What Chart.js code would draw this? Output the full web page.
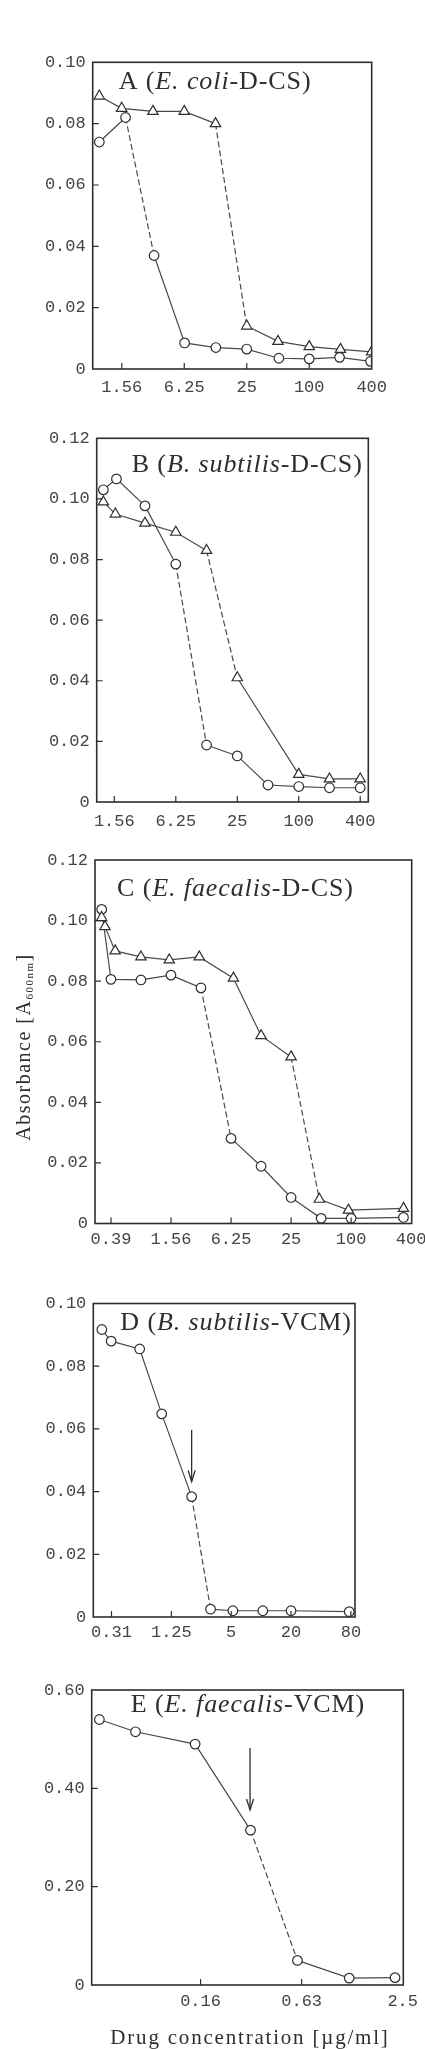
<!DOCTYPE html>
<html lang="en">
<head>
<meta charset="UTF-8">
<title>Absorbance vs drug concentration</title>
<script src="https://cdn.jsdelivr.net/npm/chart.js"></script>
<style>
    body { margin: 0; background: #fff; }
    #page { position: relative; width: 425px; height: 2049px; }
    canvas { position: absolute; left: 0; }
</style>
</head>
<body>
<div id="page">
    <canvas id="chart-a" width="425" height="390" style="top:30px"></canvas>
    <canvas id="chart-b" width="425" height="420" style="top:420px"></canvas>
    <canvas id="chart-c" width="425" height="420" style="top:840px"></canvas>
    <canvas id="chart-d" width="425" height="370" style="top:1280px"></canvas>
    <canvas id="chart-e" width="425" height="389" style="top:1660px"></canvas>
</div>

<script>
    // A - E. coli, D-CS
    const aConcTri = [0.95, 1.56, 3.12, 6.25, 12.5, 25, 50, 100, 200, 400];
    const aAbsTri = [0.089, 0.085, 0.084, 0.084, 0.080, 0.014, 0.009, 0.0073, 0.0064, 0.0056];
    const aConcCirc = [0.95, 1.7, 3.2, 6.3, 12.6, 25, 51, 100, 196, 390];
    const aAbsCirc = [0.074, 0.082, 0.037, 0.0085, 0.007, 0.0065, 0.0035, 0.0033, 0.0038, 0.0025];
    const aXTicks = [1.5625, 6.25, 25, 100, 400];
    const aXLabels = ['1.56', '6.25', '25', '100', '400'];
    const aYTicks = [0, 0.02, 0.04, 0.06, 0.08, 0.10];

    // B - B. subtilis, D-CS
    const bConcTri = [1.22, 1.6, 3.12, 6.25, 12.5, 25, 100, 200, 400];
    const bAbsTri = [0.099, 0.095, 0.092, 0.089, 0.083, 0.041, 0.0091, 0.0076, 0.0076];
    const bConcCirc = [1.22, 1.64, 3.12, 6.25, 12.5, 25, 50, 100, 200, 400];
    const bAbsCirc = [0.103, 0.1066, 0.0977, 0.0785, 0.0188, 0.0152, 0.0056, 0.0051, 0.0047, 0.0047];
    const bXTicks = [1.5625, 6.25, 25, 100, 400];
    const bXLabels = ['1.56', '6.25', '25', '100', '400'];
    const bYTicks = [0, 0.02, 0.04, 0.06, 0.08, 0.10, 0.12];

    // C - E. faecalis, D-CS
    const cConcTri = [0.315, 0.34, 0.43, 0.78, 1.5, 3.0, 6.6, 12.5, 25, 48, 94, 335];
    const cAbsTri = [0.101, 0.098, 0.090, 0.088, 0.087, 0.088, 0.081, 0.062, 0.055, 0.008, 0.0044, 0.005];
    const cConcCirc = [0.315, 0.39, 0.78, 1.56, 3.12, 6.25, 12.5, 25, 50, 100, 335];
    const cAbsCirc = [0.1037, 0.0806, 0.0804, 0.082, 0.0778, 0.0281, 0.0189, 0.0086, 0.0017, 0.0017, 0.002];
    const cXTicks = [0.390625, 1.5625, 6.25, 25, 100, 400];
    const cXLabels = ['0.39', '1.56', '6.25', '25', '100', '400'];
    const cYTicks = [0, 0.02, 0.04, 0.06, 0.08, 0.10, 0.12];

    // D - B. subtilis, VCM
    const dConc = [0.25, 0.31, 0.6, 1.0, 2.0, 3.1, 5.2, 10.4, 20, 77];
    const dAbs = [0.0917, 0.088, 0.0855, 0.0648, 0.0384, 0.0025, 0.002, 0.002, 0.002, 0.0017];
    const dXTicks = [0.3125, 1.25, 5, 20, 80];
    const dXLabels = ['0.31', '1.25', '5', '20', '80'];
    const dYTicks = [0, 0.02, 0.04, 0.06, 0.08, 0.10];
    const dArrowX = 2.0;
    const dArrowY = [0.0597, 0.0432];

    // E - E. faecalis, VCM
    const eConc = [0.039, 0.064, 0.145, 0.31, 0.59, 1.2, 2.25];
    const eAbs = [0.54, 0.515, 0.49, 0.315, 0.05, 0.014, 0.015];
    const eXTicks = [0.15625, 0.625, 2.5];
    const eXLabels = ['0.16', '0.63', '2.5'];
    const eYTicks = [0, 0.20, 0.40, 0.60];
    const eArrowX = 0.308;
    const eArrowY = [0.482, 0.356];

    const yAxisTitle = ['Absorbance [A', '600nm', ']'];
    const xAxisTitle = 'Drug concentration [\u00b5g/ml]';

    const serif = '"Liberation Serif", "DejaVu Serif", serif';
    const tickFont = { family: '"Liberation Mono", "DejaVu Sans Mono", monospace', size: 17 };
    const ink = '#2e2e2e';

    // frame, inward ticks, panel label, arrow, axis titles
    const panelDecor = {
        id: 'panelDecor',
        afterDraw(chart, args, opt) {
            const { ctx, chartArea: a, scales: { x, y } } = chart;
            ctx.save();
            ctx.strokeStyle = ink;
            ctx.lineWidth = 1.6;
            ctx.strokeRect(a.left, a.top, a.right - a.left, a.bottom - a.top);

            ctx.lineWidth = 1.2;
            ctx.beginPath();
            y.ticks.forEach(t => {
                const py = y.getPixelForValue(t.value);
                if (py > a.top + 2 && py < a.bottom - 2) { ctx.moveTo(a.left, py); ctx.lineTo(a.left + 6, py); }
            });
            x.ticks.forEach(t => {
                const px = x.getPixelForValue(t.value);
                if (px > a.left + 2 && px < a.right - 2) { ctx.moveTo(px, a.bottom); ctx.lineTo(px, a.bottom - 6); }
            });
            ctx.stroke();

            ctx.fillStyle = ink;
            ctx.textBaseline = 'alphabetic';
            ctx.letterSpacing = '0.9px';
            let cx = a.left + opt.labelDx;
            opt.label.forEach(([text, style]) => {
                ctx.font = `${style} 26px ${serif}`;
                ctx.fillText(text, cx, a.top + opt.labelDy);
                cx += ctx.measureText(text).width;
            });

            if (opt.arrow) {
                const px = x.getPixelForValue(opt.arrow.x);
                const y1 = y.getPixelForValue(opt.arrow.y[0]);
                const y2 = y.getPixelForValue(opt.arrow.y[1]);
                ctx.lineWidth = 1.3;
                ctx.beginPath();
                ctx.moveTo(px, y1);
                ctx.lineTo(px, y2);
                ctx.stroke();
                ctx.beginPath();
                ctx.moveTo(px - 3.5, y2 - 11);
                ctx.lineTo(px, y2);
                ctx.lineTo(px + 3.5, y2 - 11);
                ctx.stroke();
            }

            if (opt.yTitle) {
                ctx.translate(opt.yTitle.x, opt.yTitle.y);
                ctx.rotate(-Math.PI / 2);
                ctx.letterSpacing = '1.5px';
                ctx.textBaseline = 'middle';
                const parts = [[yAxisTitle[0], 20, 0], [yAxisTitle[1], 11, 5], [yAxisTitle[2], 20, 0]];
                let total = 0;
                parts.forEach(([t, s]) => { ctx.font = `${s}px ${serif}`; total += ctx.measureText(t).width; });
                let tx = -total / 2;
                parts.forEach(([t, s, dy]) => {
                    ctx.font = `${s}px ${serif}`;
                    ctx.fillText(t, tx, dy);
                    tx += ctx.measureText(t).width;
                });
            }

            if (opt.xTitle) {
                ctx.letterSpacing = '1.8px';
                ctx.textAlign = 'center';
                ctx.textBaseline = 'middle';
                ctx.font = `21px ${serif}`;
                ctx.fillText(xAxisTitle, opt.xTitle.x, opt.xTitle.y);
            }
            ctx.restore();
        }
    };

    function series(xs, ys, shape) {
        return { xs, ys, shape };
    }

    function drawPanel(id, p) {
        const canvas = document.getElementById(id);
        const top = parseFloat(canvas.style.top);
        const h = canvas.height;
        const yMax = p.yTicks[p.yTicks.length - 1];

        new Chart(canvas, {
            type: 'line',
            data: {
                datasets: p.series.map(s => ({
                    data: s.xs.map((v, i) => ({ x: v, y: s.ys[i] })),
                    borderColor: '#4a4a4a',
                    borderWidth: 1.2,
                    pointStyle: s.shape,
                    pointRadius: s.shape === 'triangle' ? 6 : 4.8,
                    pointBackgroundColor: '#fff',
                    pointBorderColor: ink,
                    pointBorderWidth: 1.2,
                    tension: 0,
                    segment: {
                        borderDash: c => (c.p0.parsed.y - c.p1.parsed.y) > 0.33 * yMax ? [6, 3] : undefined
                    }
                }))
            },
            options: {
                responsive: false,
                animation: false,
                layout: {
                    padding: { left: 0, top: p.frame[2] - top, right: 425 - p.frame[1], bottom: 0 }
                },
                plugins: {
                    legend: { display: false },
                    tooltip: { enabled: false },
                    panelDecor: {
                        label: p.label, labelDx: p.labelPos[0], labelDy: p.labelPos[1],
                        arrow: p.arrow, yTitle: p.yTitle, xTitle: p.xTitle
                    }
                },
                scales: {
                    x: {
                        type: 'logarithmic',
                        min: p.xRange[0],
                        max: p.xRange[1],
                        grid: { display: false, drawTicks: false },
                        border: { display: false },
                        afterBuildTicks: s => { s.ticks = p.xTicks.map(v => ({ value: v })); },
                        afterFit: s => { s.height = top + h - p.frame[3]; s.paddingLeft = 0; s.paddingRight = 0; },
                        ticks: {
                            autoSkip: false, maxRotation: 0, padding: p.xPad,
                            font: tickFont, color: '#444',
                            callback: (v, i) => p.xLabels[i]
                        }
                    },
                    y: {
                        type: 'linear',
                        min: 0,
                        max: yMax,
                        grid: { display: false, drawTicks: false },
                        border: { display: false },
                        afterBuildTicks: s => { s.ticks = p.yTicks.map(v => ({ value: v })); },
                        afterFit: s => { s.width = p.frame[0]; s.paddingTop = 0; s.paddingBottom = 0; },
                        ticks: {
                            padding: 7, font: tickFont, color: '#444',
                            callback: v => v === 0 ? '0' : v.toFixed(2)
                        }
                    }
                }
            },
            plugins: [panelDecor]
        });
    }

    // frame = [left, right, top, bottom] in page pixels
    drawPanel('chart-a', {
        frame: [92.7, 371.7, 62.3, 369],
        xRange: [0.82, 400], xTicks: aXTicks, xLabels: aXLabels, yTicks: aYTicks, xPad: 8,
        series: [series(aConcTri, aAbsTri, 'triangle'), series(aConcCirc, aAbsCirc, 'circle')],
        label: [['A (', ''], ['E. coli', 'italic'], ['-D-CS)', '']], labelPos: [26, 27]
    });

    drawPanel('chart-b', {
        frame: [96.7, 368.3, 438.3, 802],
        xRange: [1.05, 480], xTicks: bXTicks, xLabels: bXLabels, yTicks: bYTicks, xPad: 9,
        series: [series(bConcTri, bAbsTri, 'triangle'), series(bConcCirc, bAbsCirc, 'circle')],
        label: [['B (', ''], ['B. subtilis', 'italic'], ['-D-CS)', '']], labelPos: [35, 34]
    });

    drawPanel('chart-c', {
        frame: [95, 411.7, 860, 1223.5],
        xRange: [0.27, 405], xTicks: cXTicks, xLabels: cXLabels, yTicks: cYTicks, xPad: 6,
        series: [series(cConcTri, cAbsTri, 'triangle'), series(cConcCirc, cAbsCirc, 'circle')],
        label: [['C (', ''], ['E. faecalis', 'italic'], ['-D-CS)', '']], labelPos: [22, 36],
        yTitle: { x: 25, y: 207 }
    });

    drawPanel('chart-d', {
        frame: [93.3, 355, 1303.5, 1617],
        xRange: [0.205, 88], xTicks: dXTicks, xLabels: dXLabels, yTicks: dYTicks, xPad: 5,
        series: [series(dConc, dAbs, 'circle')],
        label: [['D (', ''], ['B. subtilis', 'italic'], ['-VCM)', '']], labelPos: [27, 26],
        arrow: { x: dArrowX, y: dArrowY }
    });

    drawPanel('chart-e', {
        frame: [91.7, 403.3, 1690, 1985],
        xRange: [0.0351, 2.52], xTicks: eXTicks, xLabels: eXLabels, yTicks: eYTicks, xPad: 6,
        series: [series(eConc, eAbs, 'circle')],
        label: [['E (', ''], ['E. faecalis', 'italic'], ['-VCM)', '']], labelPos: [39, 22],
        arrow: { x: eArrowX, y: eArrowY },
        xTitle: { x: 250, y: 378 }
    });
</script>
</body>
</html>
